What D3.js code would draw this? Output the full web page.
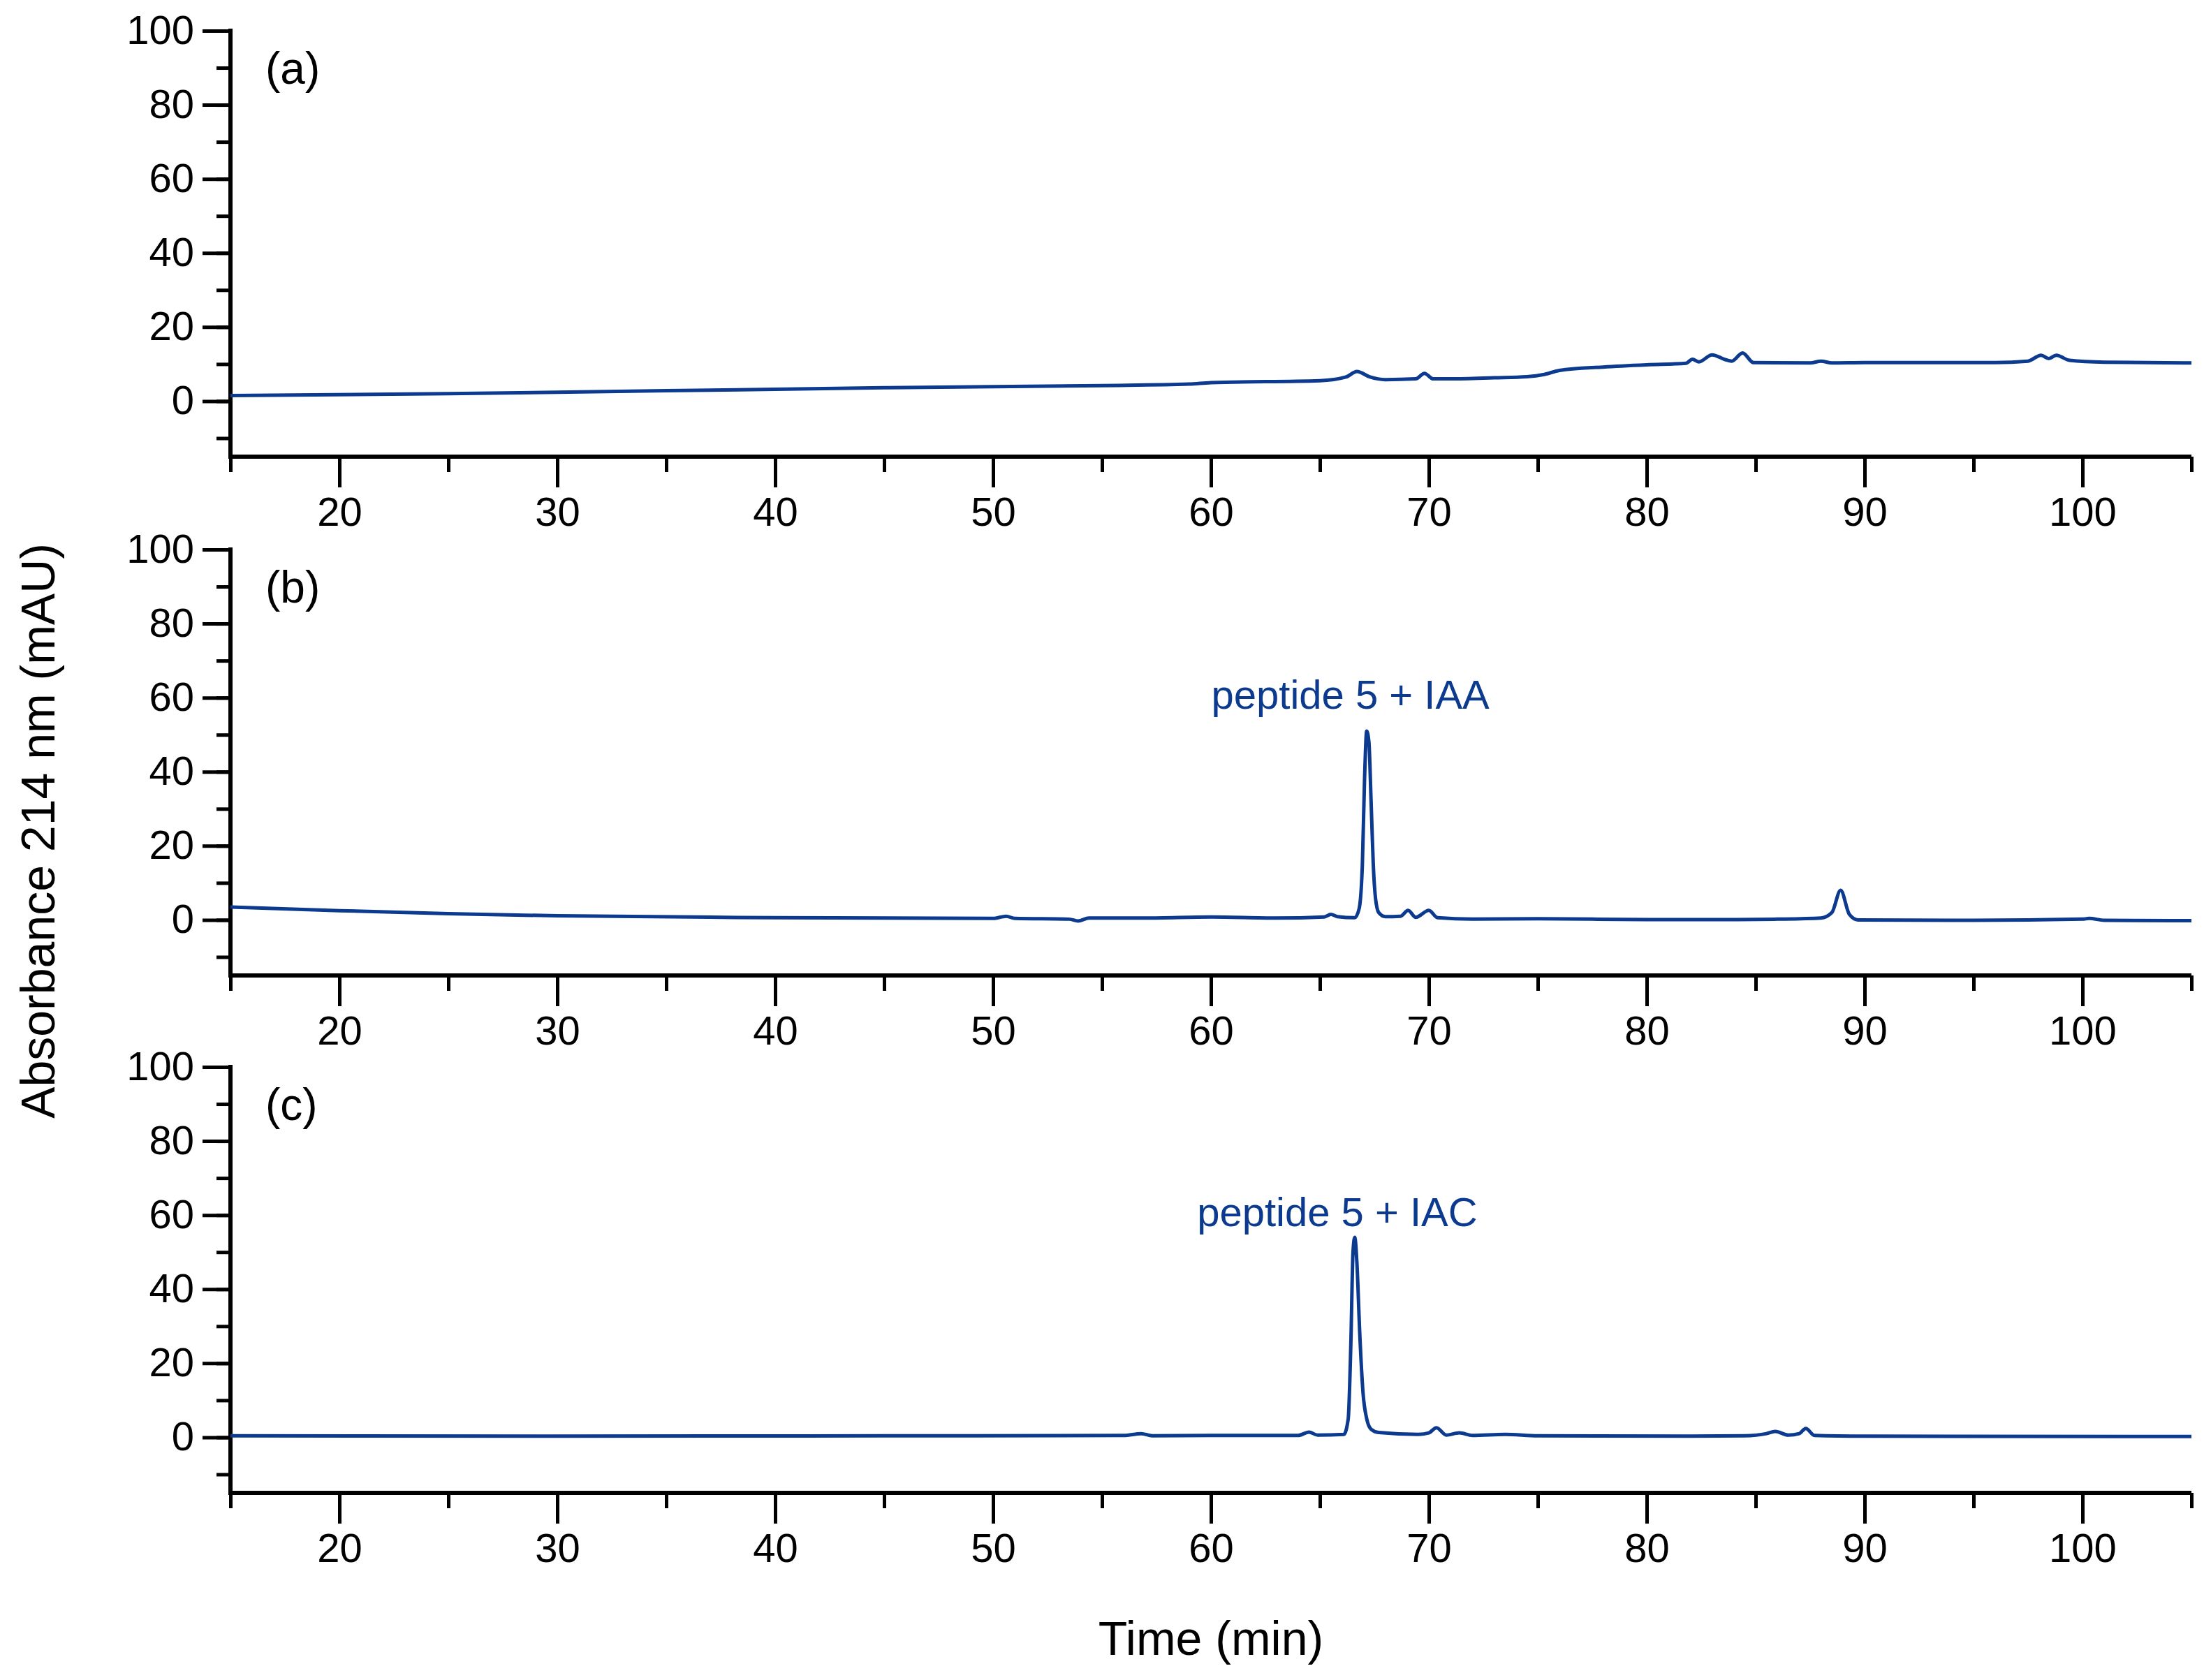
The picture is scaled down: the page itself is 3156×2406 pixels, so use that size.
<!DOCTYPE html>
<html>
<head>
<meta charset="utf-8">
<script src="https://cdn.jsdelivr.net/npm/d3@7"></script>
<style>
  body { margin: 0; background: #fff; }
  text { font-family: "Liberation Sans", Arial, sans-serif; }
</style>
</head>
<body>
<svg id="chart" width="3156" height="2406"></svg>
<script>
// chromatogram traces, [time (min), absorbance (mAU)]
const traceA = [
  [15, 1.5], [25, 2], [35, 2.8], [45, 3.6], [55, 4.2], [59, 4.6], [60, 5], [65, 5.5],
  [66.2, 6.5], [66.7, 8], [67.3, 6.5], [68, 5.8], [69.4, 6], [69.8, 7.5], [70.2, 6],
  [71, 6], [73, 6.3], [74.5, 6.6], [75.3, 7.2], [76, 8.3], [78, 9.2], [80, 9.8],
  [81.8, 10.2], [82.1, 11.3], [82.4, 10.6], [83, 12.5], [83.6, 11.2], [83.9, 10.8],
  [84.4, 13], [84.9, 10.4], [87.5, 10.3], [88, 10.8], [88.5, 10.3], [90, 10.4],
  [96, 10.4], [97.5, 10.8], [98.1, 12.4], [98.45, 11.5], [98.8, 12.4], [99.4, 11],
  [101, 10.5], [105, 10.3]
]
const traceB = [
  [15, 3.5], [20, 2.5], [25, 1.7], [30, 1.1], [40, 0.6], [50, 0.4], [50.6, 1], [51, 0.4],
  [53.5, 0.2], [53.9, -0.3], [54.4, 0.5], [57, 0.5], [60, 0.8], [63, 0.5], [65.2, 0.8],
  [65.5, 1.5], [65.8, 0.9], [66.6, 0.6], [66.8, 3], [66.95, 15], [67.05, 38],
  [67.15, 51], [67.25, 48], [67.35, 32], [67.45, 15], [67.55, 6], [67.7, 2], [68, 0.9],
  [68.7, 1], [69.05, 2.6], [69.4, 0.7], [70, 2.6], [70.4, 0.6], [72, 0.2], [75, 0.3],
  [80, 0.1], [84, 0.1], [86, 0.2], [88, 0.5], [88.5, 2], [88.9, 8], [89.3, 1.5],
  [89.7, 0], [95, -0.1], [100, 0.2], [100.3, 0.4], [101, -0.1], [105, -0.2]
]
const traceC = [
  [15, 0.4], [30, 0.3], [45, 0.4], [56, 0.5], [56.8, 1], [57.3, 0.4], [60, 0.5], [64, 0.5],
  [64.5, 1.4], [64.9, 0.6], [66.1, 0.8], [66.3, 5], [66.42, 25], [66.52, 50], [66.6, 54],
  [66.7, 47], [66.83, 28], [66.98, 12], [67.15, 5], [67.35, 2.2], [67.7, 1.3],
  [69.5, 0.8], [70, 1.2], [70.35, 2.6], [70.8, 0.6], [71.4, 1.2], [72, 0.5], [73.5, 0.8],
  [75, 0.4], [82, 0.3], [84.5, 0.4], [85.5, 1], [85.9, 1.6], [86.5, 0.6], [87, 1],
  [87.3, 2.4], [87.7, 0.5], [90, 0.3], [105, 0.2]
]
const traces = [traceA, traceB, traceC]
const panelLabels = ['(a)', '(b)', '(c)']
const peakLabels = [null, {t: 66.4, y: 57, text: 'peptide 5 + IAA'}, {t: 65.8, y: 57, text: 'peptide 5 + IAC'}]
const xTicks = [20, 30, 40, 50, 60, 70, 80, 90, 100]
const yTicks = [0, 20, 40, 60, 80, 100]

const svg = d3.select('#chart')
const left = 330, right = 3138
const panelTop = [44, 787, 1528], panelH = 610
const lineColor = '#0b3a8e'

const x = d3.scaleLinear().domain([15, 105]).range([left, right])

traces.forEach((trace, i) => {
    const top = panelTop[i]
    const y = d3.scaleLinear().domain([-15, 100]).range([top + panelH, top])
    const g = svg.append('g')

    // minor ticks first, majors drawn over them
    g.append('g').attr('transform', `translate(${left},0)`)
        .call(d3.axisLeft(y).tickValues(d3.range(-10, 101, 10)).tickSize(20).tickFormat(''))
    g.append('g').attr('transform', `translate(${left},0)`)
        .call(d3.axisLeft(y).tickValues(yTicks).tickSize(40).tickPadding(12))
    g.append('g').attr('transform', `translate(0,${top + panelH})`)
        .call(d3.axisBottom(x).tickValues(d3.range(15, 106, 5)).tickSize(22).tickFormat(''))
    g.append('g').attr('transform', `translate(0,${top + panelH})`)
        .call(d3.axisBottom(x).tickValues(xTicks).tickSize(44).tickPadding(14))

    g.selectAll('.domain').attr('d', null)
    g.selectAll('.tick line').attr('stroke-width', 5)
    g.selectAll('.tick text').attr('font-size', 58).attr('fill', '#000')
        .style('font-family', '"Liberation Sans", Arial, sans-serif')

    // axis lines
    g.append('line').attr('x1', left).attr('x2', left).attr('y1', top - 3).attr('y2', top + panelH + 3)
        .attr('stroke', '#000').attr('stroke-width', 6)
    g.append('line').attr('x1', left - 3).attr('x2', right).attr('y1', top + panelH).attr('y2', top + panelH)
        .attr('stroke', '#000').attr('stroke-width', 6)

    g.append('path').datum(trace)
        .attr('fill', 'none').attr('stroke', lineColor).attr('stroke-width', 5)
        .attr('stroke-linejoin', 'round')
        .attr('d', d3.line().x(d => x(d[0])).y(d => y(d[1])).curve(d3.curveMonotoneX))

    g.append('text').attr('x', 380).attr('y', top + 76).attr('font-size', 64)
        .text(panelLabels[i])

    const pk = peakLabels[i]
    if (pk) {
        g.append('text').attr('x', x(pk.t)).attr('y', y(pk.y)).attr('text-anchor', 'middle')
            .attr('font-size', 58).attr('fill', lineColor).text(pk.text)
    }
})

svg.append('text').attr('transform', 'translate(78,1190) rotate(-90)')
    .attr('text-anchor', 'middle').attr('font-size', 68).text('Absorbance 214 nm (mAU)')
svg.append('text').attr('x', 1734).attr('y', 2370)
    .attr('text-anchor', 'middle').attr('font-size', 68).text('Time (min)')
</script>
</body>
</html>
